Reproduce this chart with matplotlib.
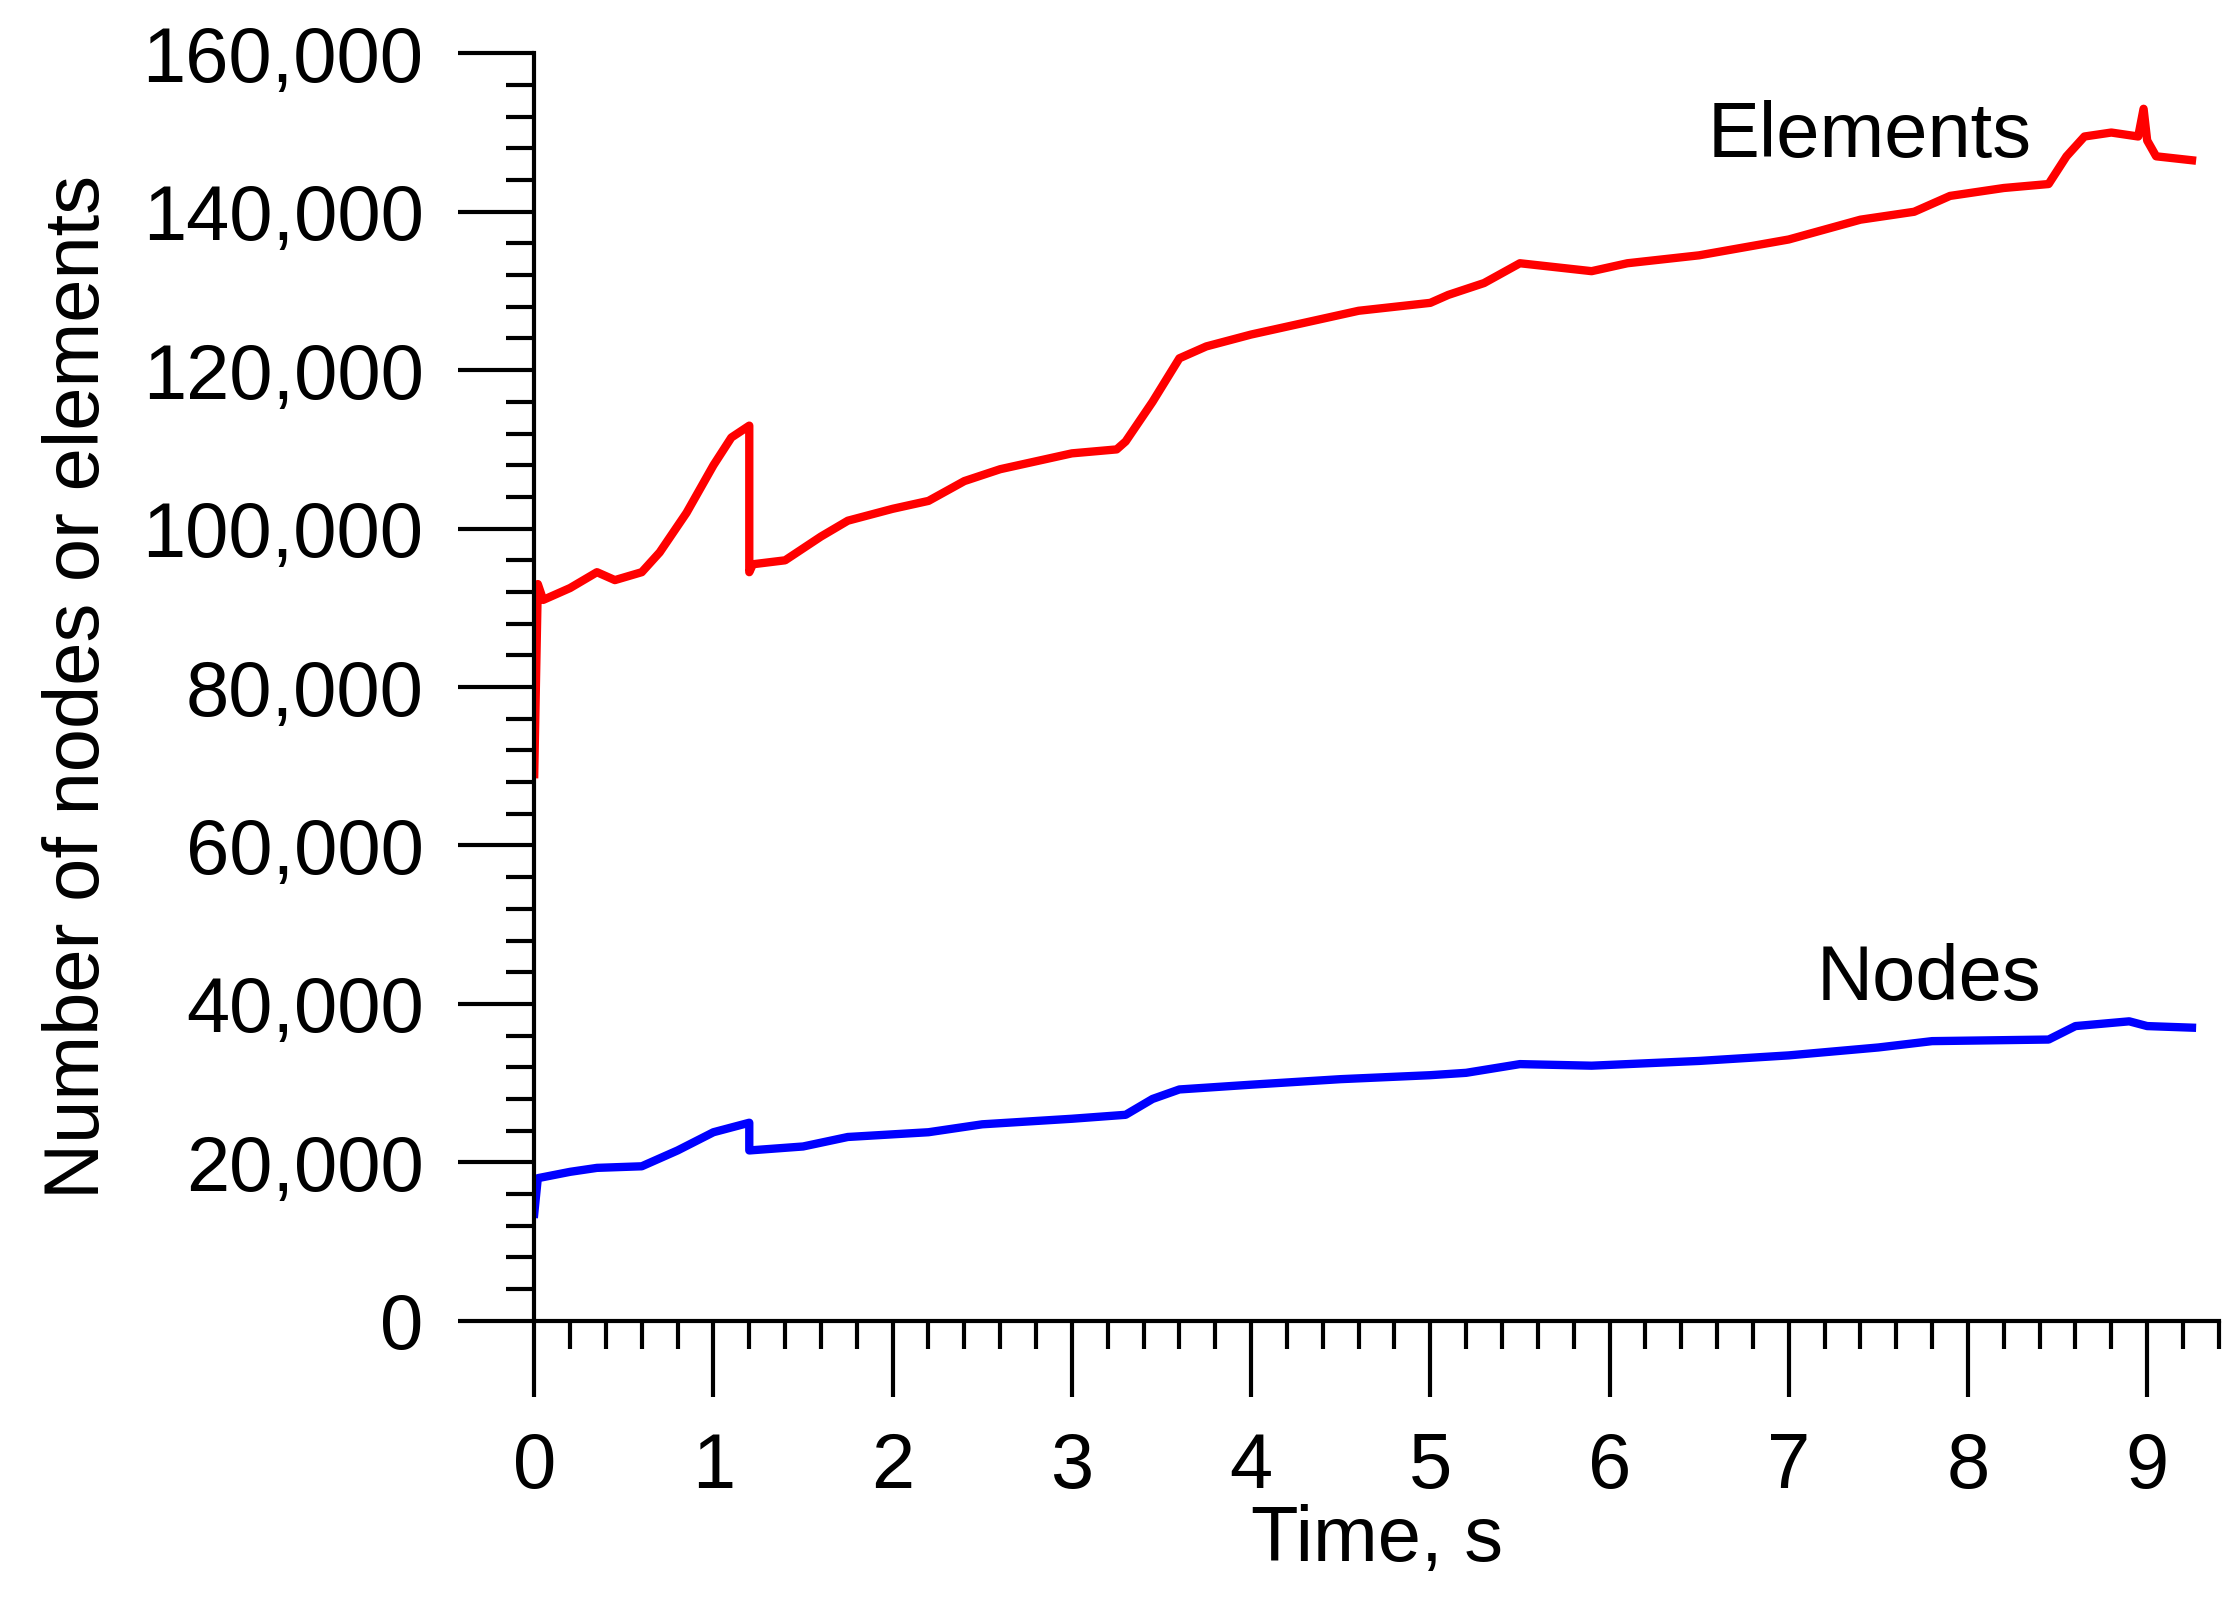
import matplotlib
matplotlib.use("Agg")
import matplotlib.pyplot as plt
from matplotlib.ticker import MultipleLocator, FuncFormatter

el_t = [0,0.02,0.05,0.2,0.35,0.45,0.6,0.7,0.85,1.0,1.1,1.2,1.2,1.22,1.4,1.6,1.75,2.0,2.2,2.4,2.6,2.8,3.0,3.25,3.3,3.45,3.6,3.75,4.0,4.3,4.6,5.0,5.1,5.3,5.5,5.7,5.9,6.1,6.5,7.0,7.4,7.7,7.9,8.2,8.45,8.55,8.65,8.8,8.95,8.98,9.0,9.05,9.25]
el_v = [69000,93000,91000,92500,94500,93500,94500,97000,102000,108000,111500,113000,94500,95500,96000,99000,101000,102500,103500,106000,107500,108500,109500,110000,111000,116000,121500,123000,124500,126000,127500,128500,129500,131000,133500,133000,132500,133500,134500,136500,139000,140000,142000,143000,143500,147000,149500,150000,149500,153000,149000,147000,146500]
nd_t = [0,0.02,0.2,0.35,0.6,0.8,1.0,1.2,1.2,1.5,1.75,2.2,2.5,3.0,3.3,3.45,3.6,3.8,4.0,4.5,5.0,5.2,5.5,5.9,6.5,7.0,7.5,7.8,8.45,8.6,8.9,9.0,9.25]
nd_v = [13500,18000,18800,19300,19500,21500,23800,25000,21500,22000,23200,23800,24800,25500,26000,28000,29200,29500,29800,30500,31000,31300,32400,32200,32800,33500,34500,35300,35500,37200,37800,37200,37000]

plt.rcParams['font.family'] = ['Liberation Sans', 'DejaVu Sans']
fig = plt.figure(figsize=(22.39, 16.16), dpi=100)
ax = fig.add_axes([0.2386, 0.1827, 0.7524, 0.7843])
ax.plot(el_t, el_v, color='#ff0000', lw=6)
ax.plot(nd_t, nd_v, color='#0000ff', lw=6)
ax.set_xlim(0, 9.4)
ax.set_ylim(0, 160000)
for s in ['top', 'right']:
    ax.spines[s].set_visible(False)
for s in ['left', 'bottom']:
    ax.spines[s].set_linewidth(3)
ax.xaxis.set_major_locator(MultipleLocator(1))
ax.xaxis.set_minor_locator(MultipleLocator(0.2))
ax.yaxis.set_major_locator(MultipleLocator(20000))
ax.yaxis.set_minor_locator(MultipleLocator(4000))
ax.yaxis.set_major_formatter(FuncFormatter(lambda v, p: f"{int(v):,}"))
ax.tick_params(which='major', direction='out', length=38*1.44, width=3, labelsize=56)
ax.tick_params(which='minor', direction='out', length=14*1.44, width=3)
ax.tick_params(axis='x', which='major', pad=25)
ax.tick_params(axis='y', which='major', pad=25)
ax.set_xlabel('Time, s', fontsize=56, labelpad=0)
ax.set_ylabel('Number of nodes or elements', fontsize=56, labelpad=20)
ax.text(7.45, 149500, 'Elements', fontsize=56, ha='center', va='center')
ax.text(7.78, 43100, 'Nodes', fontsize=56, ha='center', va='center')
fig.savefig('out.png', dpi=100)
